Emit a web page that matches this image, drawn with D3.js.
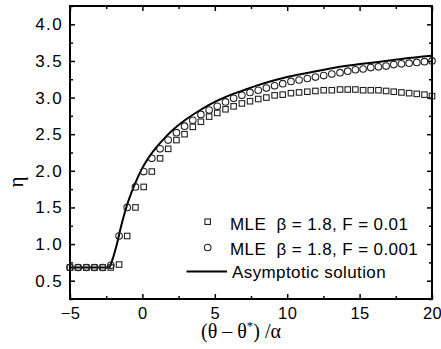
<!DOCTYPE html>
<html>
<head>
<meta charset="utf-8">
<script src="https://cdn.jsdelivr.net/npm/d3@7"></script>
<style>
  body { margin: 0; background: #fff; }
  svg { display: block; }
  .tick text { font-family: "Liberation Sans", Arial, sans-serif; fill: #000; }
  .xaxis .tick text { font-size: 16.5px; letter-spacing: 0.4px; }
  .yaxis .tick text { font-size: 17px; letter-spacing: 1.4px; }
</style>
</head>
<body>
<div id="chart"></div>
<script>
// sample positions (same for both MLE series)
const xs = [-5.00, -4.44, -3.87, -3.31, -2.74, -2.18, -1.61, -1.05, -0.48, 0.09,
  0.65, 1.22, 1.78, 2.35, 2.91, 3.48, 4.04, 4.61, 5.17, 5.74,
  6.30, 6.87, 7.43, 8.00, 8.56, 9.13, 9.69, 10.26, 10.82, 11.39,
  11.95, 12.52, 13.08, 13.65, 14.18, 14.71, 15.24, 15.77, 16.30, 16.83,
  17.36, 17.89, 18.42, 18.95, 19.48, 20.00];

// MLE beta = 1.8, F = 0.01 (squares)
const etaF01 = [0.68, 0.68, 0.68, 0.68, 0.68, 0.68, 0.72, 1.11, 1.50, 1.78,
  1.99, 2.17, 2.30, 2.42, 2.50, 2.60, 2.67, 2.74, 2.79, 2.84,
  2.88, 2.92, 2.95, 2.98, 3.00, 3.03, 3.04, 3.06, 3.07, 3.08,
  3.09, 3.10, 3.10, 3.11, 3.11, 3.11, 3.10, 3.10, 3.10, 3.09,
  3.08, 3.07, 3.06, 3.05, 3.04, 3.02];

// MLE beta = 1.8, F = 0.001 (circles)
const etaF001 = [0.68, 0.68, 0.68, 0.68, 0.68, 0.71, 1.11, 1.50, 1.78, 1.99,
  2.17, 2.30, 2.42, 2.52, 2.61, 2.69, 2.77, 2.83, 2.88, 2.94,
  2.99, 3.03, 3.07, 3.10, 3.13, 3.16, 3.19, 3.22, 3.24, 3.26,
  3.28, 3.30, 3.32, 3.34, 3.36, 3.38, 3.39, 3.41, 3.42, 3.43,
  3.45, 3.46, 3.47, 3.48, 3.49, 3.50];

// asymptotic solution
const asymX = [-5, -2.3, -2.1, -1.8, -1.5, -1.0, -0.5, 0, 0.5, 1, 1.5, 2, 3, 4, 5, 6, 7, 8, 9, 10, 12, 14, 16, 18, 20];
const asymEta = [0.68, 0.68, 0.77, 0.97, 1.22, 1.57, 1.83, 2.04, 2.20, 2.33, 2.44, 2.54, 2.70, 2.83, 2.94, 3.03, 3.10, 3.17, 3.23, 3.28, 3.36, 3.43, 3.48, 3.53, 3.57];

const xTicks = [-5, 0, 5, 10, 15, 20];
const yTicks = [0.5, 1.0, 1.5, 2.0, 2.5, 3.0, 3.5, 4.0];

// non-breaking space keeps the wide gap after "MLE"
const legendLabels = ["MLE \u00a0\u03b2 = 1.8, F = 0.01", "MLE \u00a0\u03b2 = 1.8, F = 0.001", "Asymptotic solution"];

const W = 441, H = 349;
const margin = { top: 6, right: 9, bottom: 50, left: 70 };
const width = W - margin.left - margin.right;
const height = H - margin.top - margin.bottom;

const svg = d3.select('#chart').append('svg').attr('width', W).attr('height', H);
const g = svg.append('g').attr('transform', 'translate(' + margin.left + ',' + margin.top + ')');

const x = d3.scaleLinear().domain([-5, 20]).range([0, width]);
const y = d3.scaleLinear().domain([0.25, 4.25]).range([height, 0]);

const xMinor = d3.range(-5, 20.01, 2.5).filter(v => !xTicks.includes(v));
const yMinor = d3.range(0.25, 4.26, 0.25).filter(v => !yTicks.some(t => Math.abs(t - v) < 1e-6));

function styleAxis(sel) {
  sel.select('.domain').remove();
  sel.selectAll('line').attr('stroke', '#000').attr('stroke-width', 1.5);
}

// bottom
g.append('g').attr('class', 'xaxis').attr('transform', 'translate(0,' + height + ')')
  .call(d3.axisBottom(x).tickValues(xTicks).tickSize(-5).tickPadding(8).tickFormat(d3.format('d')))
  .call(styleAxis);
g.append('g').attr('transform', 'translate(0,' + height + ')')
  .call(d3.axisBottom(x).tickValues(xMinor).tickSize(-3).tickFormat(''))
  .call(styleAxis);
// top
g.append('g').call(d3.axisTop(x).tickValues(xTicks).tickSize(-5).tickFormat('')).call(styleAxis);
g.append('g').call(d3.axisTop(x).tickValues(xMinor).tickSize(-3).tickFormat('')).call(styleAxis);
// left
g.append('g').attr('class', 'yaxis')
  .call(d3.axisLeft(y).tickValues(yTicks).tickSize(-5).tickPadding(7).tickFormat(d3.format('.1f')))
  .call(styleAxis);
g.append('g').call(d3.axisLeft(y).tickValues(yMinor).tickSize(-3).tickFormat('')).call(styleAxis);
// right
g.append('g').attr('transform', 'translate(' + width + ',0)')
  .call(d3.axisRight(y).tickValues(yTicks).tickSize(-5).tickFormat('')).call(styleAxis);
g.append('g').attr('transform', 'translate(' + width + ',0)')
  .call(d3.axisRight(y).tickValues(yMinor).tickSize(-3).tickFormat('')).call(styleAxis);

// frame
g.append('rect').attr('width', width).attr('height', height)
  .attr('fill', 'none').attr('stroke', '#000').attr('stroke-width', 2);

// asymptotic line
const line = d3.line().x(d => x(d[0])).y(d => y(d[1])).curve(d3.curveMonotoneX);
g.append('path')
  .datum(asymX.map((v, i) => [v, asymEta[i]]))
  .attr('d', line)
  .attr('fill', 'none').attr('stroke', '#000').attr('stroke-width', 2);

// squares
const sq = 5.5;
g.append('g').selectAll('rect')
  .data(xs.map((v, i) => [v, etaF01[i]]))
  .join('rect')
  .attr('x', d => x(d[0]) - sq / 2)
  .attr('y', d => y(d[1]) - sq / 2)
  .attr('width', sq).attr('height', sq)
  .attr('fill', 'none').attr('stroke', '#222').attr('stroke-width', 1.1);

// circles
g.append('g').selectAll('circle')
  .data(xs.map((v, i) => [v, etaF001[i]]))
  .join('circle')
  .attr('cx', d => x(d[0]))
  .attr('cy', d => y(d[1]))
  .attr('r', 3.3)
  .attr('fill', 'none').attr('stroke', '#222').attr('stroke-width', 1.1);

// legend
const lg = svg.append('g')
  .style('font-family', '"Liberation Sans", Arial, sans-serif')
  .style('font-size', '17px')
  .style('letter-spacing', '0.4px');
lg.append('rect').attr('x', 207.7 - sq / 2).attr('y', 221.7 - sq / 2).attr('width', sq).attr('height', sq)
  .attr('fill', 'none').attr('stroke', '#222').attr('stroke-width', 1.1);
lg.append('circle').attr('cx', 207.7).attr('cy', 247.5).attr('r', 3.3)
  .attr('fill', 'none').attr('stroke', '#222').attr('stroke-width', 1.1);
lg.append('line').attr('x1', 186.5).attr('x2', 227).attr('y1', 271.5).attr('y2', 271.5)
  .attr('stroke', '#000').attr('stroke-width', 2);
lg.selectAll('text').data(legendLabels).join('text')
  .attr('x', (d, i) => i === 2 ? 232 : 230)
  .attr('y', (d, i) => [230, 255, 277.5][i])
  .text(d => d);

// axis titles
svg.append('text')
  .attr('transform', 'translate(23,182) rotate(-90)')
  .attr('text-anchor', 'middle')
  .style('font-family', '"Liberation Serif", "Times New Roman", serif')
  .style('font-size', '21px')
  .text('\u03b7');

const xt = svg.append('text')
  .attr('x', 241).attr('y', 338)
  .attr('text-anchor', 'middle')
  .style('font-family', '"Liberation Serif", "Times New Roman", serif')
  .style('font-size', '20px');
xt.append('tspan').text('(\u03b8 \u2013 \u03b8');
xt.append('tspan').attr('dy', -8).style('font-size', '13px').text('*');
xt.append('tspan').attr('dy', 8).text(') /\u03b1');
</script>
</body>
</html>
